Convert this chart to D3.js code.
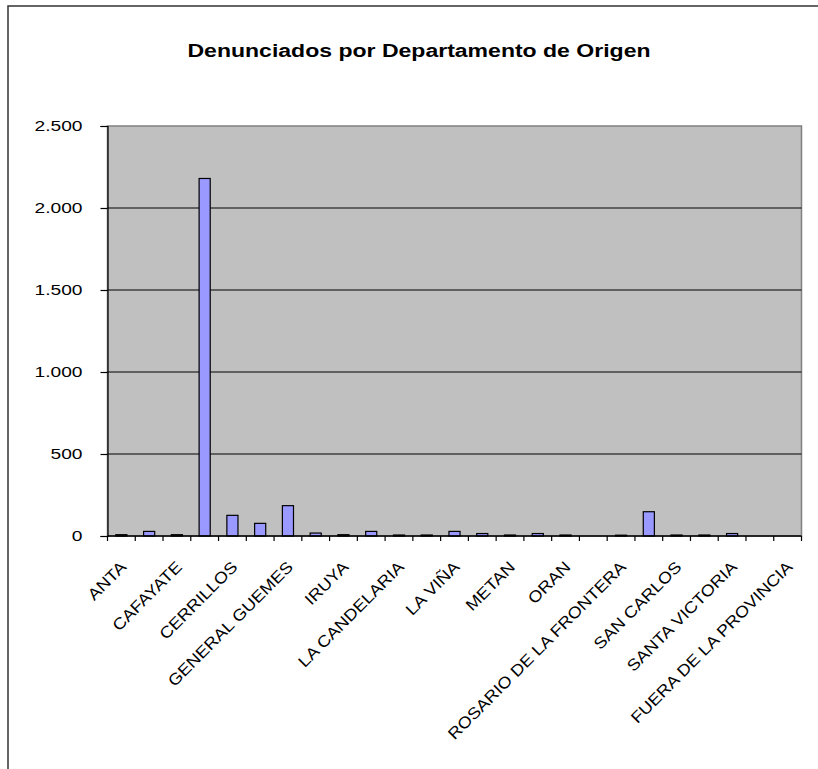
<!DOCTYPE html>
<html>
<head>
<meta charset="utf-8">
<script src="https://cdn.jsdelivr.net/npm/d3@7"></script>
<style>
  body { margin: 0; background: #fff; overflow: hidden; }
  svg { display: block; font-family: "Liberation Sans", Arial, sans-serif; }
</style>
</head>
<body>
<div id="chart"></div>
<script>
var departamentos = ["ANTA", "CACHI", "CAFAYATE", "CAPITAL", "CERRILLOS", "CHICOANA",
    "GENERAL GUEMES", "GUACHIPAS", "IRUYA", "LA CALDERA", "LA CANDELARIA", "LA POMA",
    "LA VIÑA", "LOS ANDES", "METAN", "MOLINOS", "ORAN", "RIVADAVIA",
    "ROSARIO DE LA FRONTERA", "ROSARIO DE LERMA", "SAN CARLOS", "SAN MARTIN",
    "SANTA VICTORIA", "SIN DATOS", "FUERA DE LA PROVINCIA"];
var denunciados = [8, 28, 8, 2180, 126, 77, 185, 18, 8, 28, 6, 6,
    28, 15, 6, 15, 6, 0, 5, 148, 6, 6, 15, 0, 0];
var yTicks = [0, 500, 1000, 1500, 2000, 2500];

var width = 818, height = 769;
var plot = {left: 107.5, right: 801.5, top: 126, bottom: 536};
var stretch = 1.28;   // the original text is drawn wide

var svg = d3.select("#chart")
    .append("svg")
    .attr("width", width)
    .attr("height", height);

// outer frame (runs off the right and bottom edge)
svg.append("rect")
    .attr("x", 8).attr("y", 6)
    .attr("width", 830).attr("height", 790)
    .attr("fill", "none")
    .attr("stroke", "#333")
    .attr("stroke-width", 1.5);

svg.append("text")
    .attr("transform", "translate(419,57) scale(" + stretch + ",1)")
    .attr("text-anchor", "middle")
    .attr("font-size", 18)
    .attr("font-weight", "bold")
    .text("Denunciados por Departamento de Origen");

var x = d3.scaleBand()
    .domain(departamentos)
    .range([plot.left, plot.right])
    .paddingInner(0.6)
    .paddingOuter(0.3);

var y = d3.scaleLinear()
    .domain([0, 2500])
    .range([plot.bottom, plot.top]);

svg.append("rect")
    .attr("x", plot.left).attr("y", plot.top)
    .attr("width", plot.right - plot.left)
    .attr("height", plot.bottom - plot.top)
    .attr("fill", "#c0c0c0")
    .attr("stroke", "#808080")
    .attr("stroke-width", 1.5);

svg.selectAll(".grid")
    .data(yTicks.slice(1, -1))
    .enter()
    .append("line")
    .attr("x1", plot.left).attr("x2", plot.right)
    .attr("y1", function(d) { return y(d); })
    .attr("y2", function(d) { return y(d); })
    .attr("stroke", "#000")
    .attr("stroke-width", 1.2);

svg.selectAll(".bar")
    .data(denunciados)
    .enter()
    .append("rect")
    .attr("x", function(d, i) { return x(departamentos[i]); })
    .attr("y", function(d) { return y(d); })
    .attr("width", x.bandwidth())
    .attr("height", function(d) { return plot.bottom - y(d); })
    .attr("fill", "#9999ff")
    .attr("stroke", "#000")
    .attr("stroke-width", 1.2)
    .style("display", function(d) { return d > 0 ? null : "none"; });

var yAxis = svg.append("g")
    .attr("transform", "translate(" + plot.left + ",0)")
    .call(d3.axisLeft(y).tickValues(yTicks).tickSize(7)
        .tickFormat(function(d) { return d3.format(",")(d).replace(/,/g, "."); }));
yAxis.select(".domain").attr("stroke", "#000").attr("stroke-width", 1.2);
yAxis.selectAll(".tick line").attr("stroke", "#000").attr("stroke-width", 1.2);
yAxis.selectAll(".tick text")
    .attr("x", -25 / stretch)
    .attr("transform", "scale(" + stretch + ",1)")
    .attr("font-size", 15)
    .attr("font-family", "Liberation Sans, Arial, sans-serif")
    .attr("fill", "#000");

// category ticks sit at band boundaries
var bounds = d3.range(departamentos.length + 1).map(function(i) {
    return plot.left + i * (plot.right - plot.left) / departamentos.length;
});
svg.append("line")
    .attr("x1", plot.left).attr("x2", plot.right)
    .attr("y1", plot.bottom).attr("y2", plot.bottom)
    .attr("stroke", "#000").attr("stroke-width", 1.5);
svg.selectAll(".xtick")
    .data(bounds)
    .enter()
    .append("line")
    .attr("x1", function(d) { return d; })
    .attr("x2", function(d) { return d; })
    .attr("y1", plot.bottom).attr("y2", plot.bottom + 5)
    .attr("stroke", "#000").attr("stroke-width", 1.2);

svg.selectAll(".xlabel")
    .data(departamentos.filter(function(d, i) { return i % 2 === 0; }))
    .enter()
    .append("text")
    .attr("text-anchor", "end")
    .attr("font-size", 16)
    .attr("transform", function(d) {
        var cx = x(d) + x.bandwidth() / 2 + 6;
        return "translate(" + cx + "," + (plot.bottom + 32) + ") rotate(-45) scale(1.13,1)";
    })
    .text(function(d) { return d; });
</script>
</body>
</html>
